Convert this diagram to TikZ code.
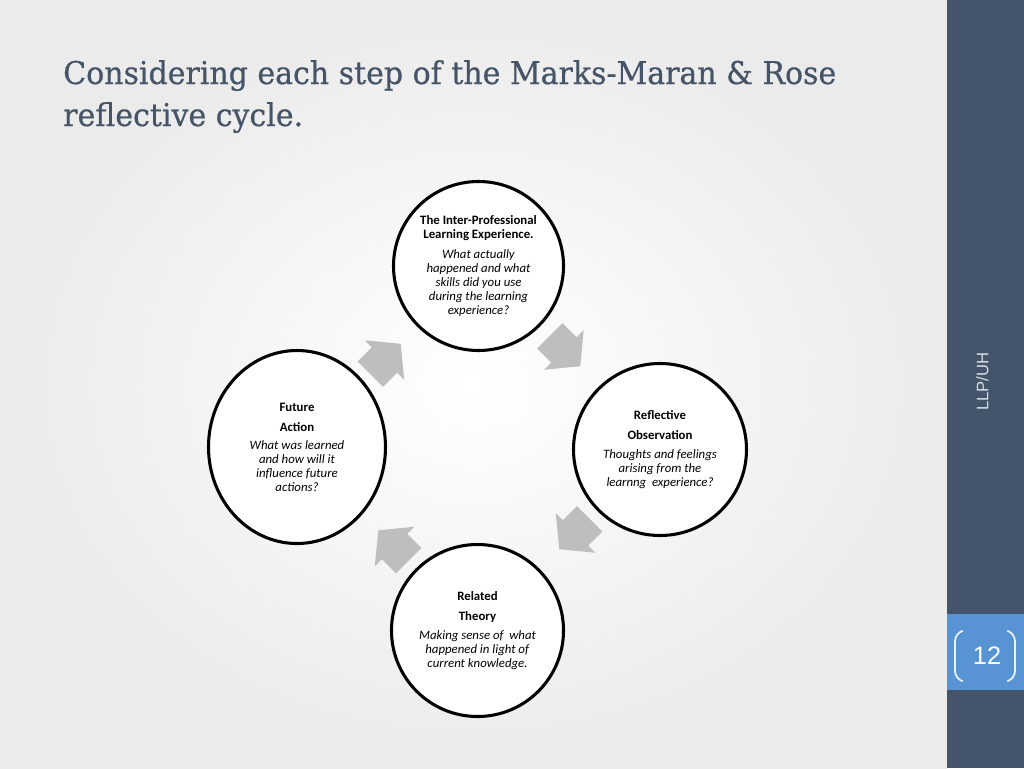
\documentclass[tikz,border=0pt]{standalone}
\usepackage{fontspec}
\usepackage{graphicx}
\usetikzlibrary{shapes.geometric}
\setmainfont{DejaVu Serif}
\newfontfamily\titlefam[FakeBold=0.6]{DejaVu Serif}
\newfontfamily\carlito{Carlito}
\newfontfamily\sidefont{Liberation Sans}
\definecolor{sidebar}{RGB}{68,84,106}
\definecolor{numbox}{RGB}{88,148,212}
\definecolor{titlecol}{RGB}{70,84,104}
\definecolor{arrowgray}{RGB}{190,190,190}
\definecolor{sidetext}{RGB}{215,222,230}
\newlength\titlew
\tikzset{
  stage/.style={draw=black, line width=2.3pt, ellipse, inner sep=0pt, fill=white},
  stagetext/.style={align=center, inner sep=0pt, font=\carlito\fontsize{9.6}{10.5}\selectfont},
  cyclearrow/.pic={\fill[arrowgray] (-21.5,-18) -- (-1.5,-18) -- (-1.5,-28) -- (21.5,0) -- (-1.5,28) -- (-1.5,18) -- (-21.5,18) -- cycle;}
}
\newcommand\titlefont{\titlefam\fontsize{23.5}{31.5}\selectfont}
\begin{document}
\settowidth\titlew{\titlefont Considering each step of the Marks-Maran \& Rose}%
\pgfmathsetmacro\tsx{579.75/\titlew}%
\begin{tikzpicture}[x=0.75pt,y=-0.75pt]
\useasboundingbox (0,0) rectangle (1024,768);
% background
\shade[inner color=white, outer color=black!8] (0,0) rectangle (947,768);
\fill[sidebar] (947,0) rectangle (1024,768);
\fill[numbox] (947,614) rectangle (1024,690);
% title
\node[anchor=base west, inner sep=0pt, text=titlecol, font=\titlefont] (title1) at (63,84)
  {\scalebox{\tsx}[1]{Considering each step of the Marks-Maran \& Rose}};
\node[anchor=base west, inner sep=0pt, text=titlecol, font=\titlefont] (title2) at (63,126)
  {\scalebox{\tsx}[1]{reflective cycle.}};
% side labels
\node[rotate=90, text=sidetext, font=\sidefont\fontsize{12.5}{12.5}\selectfont, inner sep=0pt] (llp) at (982.5,381.5) {LLP/UH};
\node[text=white, font=\sidefont\fontsize{19}{19}\selectfont, inner sep=0pt] (num) at (987,656) {12};
\coordinate (lbt) at (962,631);
\coordinate (lbb) at (962,681);
\coordinate (rbt) at (1008,631);
\coordinate (rbb) at (1008,681);
\draw[white!90!numbox, line width=1.3pt, rounded corners=6pt] (lbt) -- (955,633) -- (955,679) -- (lbb);
\draw[white!90!numbox, line width=1.3pt, rounded corners=6pt] (rbt) -- (1015,633) -- (1015,679) -- (rbb);
% arrows
\pic[rotate=45] at (385.5,359) {cyclearrow};
\pic[rotate=-45] at (565,351) {cyclearrow};
\pic[rotate=-135] at (574.5,534) {cyclearrow};
\pic[rotate=135] at (393.5,545.5) {cyclearrow};
% stages
\node[stage, minimum width=170*0.75pt, minimum height=169*0.75pt] (top) at (478.5,266) {};
\node[stage, minimum width=173*0.75pt, minimum height=172*0.75pt] (right) at (660,449.5) {};
\node[stage, minimum width=172*0.75pt, minimum height=172*0.75pt] (bottom) at (477.5,630.5) {};
\node[stage, minimum width=177*0.75pt, minimum height=193*0.75pt] (left) at (297,447) {};
\node[stagetext] (toptext) at (top) {\textbf{The Inter-Professional}\\\textbf{Learning Experience.}\\[4.5pt]\textit{What actually}\\\textit{happened and what}\\\textit{skills did you use}\\\textit{during the learning}\\\textit{experience?}};
\node[stagetext] (righttext) at (right) {\textbf{Reflective}\\[4.5pt]\textbf{Observation}\\[4pt]\textit{Thoughts and feelings}\\\textit{arising from the}\\\textit{learnng\ \ experience?}};
\node[stagetext] (bottomtext) at (bottom) {\textbf{Related}\\[4.5pt]\textbf{Theory}\\[4pt]\textit{Making sense of\ \ what}\\\textit{happened in light of}\\\textit{current knowledge.}};
\node[stagetext] (lefttext) at (left) {\textbf{Future}\\[4.5pt]\textbf{Action}\\[3pt]\textit{What was learned}\\\textit{and how will it}\\\textit{influence future}\\\textit{actions?}};
\end{tikzpicture}
\end{document}
